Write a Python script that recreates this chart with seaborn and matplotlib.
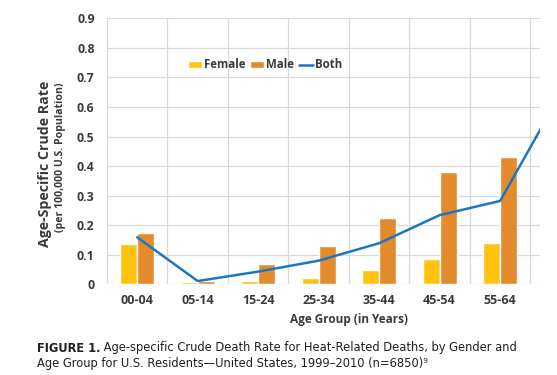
import matplotlib
matplotlib.use("Agg")
import matplotlib.pyplot as plt
import numpy as np
import pandas as pd
import seaborn as sns

# %% data
age_groups = ["00-04", "05-14", "15-24", "25-34", "35-44", "45-54", "55-64"]
female = [0.135, 0.007, 0.011, 0.021, 0.047, 0.085, 0.139]
male = [0.175, 0.012, 0.069, 0.130, 0.225, 0.380, 0.432]
# "Both" continues into the next (cropped) age group
both_groups = age_groups + ["65+"]
both = [0.159, 0.011, 0.043, 0.080, 0.139, 0.234, 0.282, 0.645]

df = pd.DataFrame(
    {
        "age": age_groups * 2,
        "rate": female + male,
        "gender": ["Female"] * len(age_groups) + ["Male"] * len(age_groups),
    }
)

# %% plot
sns.set_style("white")
plt.rcParams["font.family"] = ["Open Sans", "DejaVu Sans"]

W, H = 557, 375
fig = plt.figure(figsize=(W / 100, H / 100), dpi=100)
ax = fig.add_axes([107 / W, 1 - 284.3 / H, (540 - 107) / W, (284.3 - 18.3) / H])

gray_txt = "#3a3a3a"
sns.barplot(
    data=df,
    x="age",
    y="rate",
    hue="gender",
    palette={"Female": "#FFC30F", "Male": "#E38B2D"},
    width=0.56,
    gap=0,
    saturation=1,
    ax=ax,
    zorder=2,
)
sns.lineplot(
    x=np.arange(len(both_groups)),
    y=both,
    color="#1C77C3",
    linewidth=1.8,
    label="Both",
    ax=ax,
    zorder=3,
)

ax.set_ylim(0, 0.9)
ax.set_xlim(-0.5, 6.66)
ax.set_yticks(np.arange(0, 0.91, 0.1))
ax.set_yticklabels(["0"] + [f"{v:.1f}" for v in np.arange(0.1, 0.91, 0.1)])
ax.set_xticks(range(len(age_groups)))
ax.set_xticklabels(age_groups)
ax.set_xticks(np.arange(-0.5, 7, 1), minor=True)
ax.grid(True, axis="y", color="#d9d9d9", linewidth=0.9, zorder=0)
ax.grid(True, axis="x", which="minor", color="#d9d9d9", linewidth=0.9, zorder=0)
ax.set_axisbelow(True)
for s in ax.spines.values():
    s.set_visible(False)
ax.tick_params(axis="both", which="both", length=0)
ax.tick_params(axis="y", pad=9, labelsize=8.8, labelcolor=gray_txt)
ax.tick_params(axis="x", pad=7, labelsize=9, labelcolor=gray_txt)
for lbl in ax.get_xticklabels() + ax.get_yticklabels():
    lbl.set_fontweight("bold")
ax.set_xlabel("")
ax.set_ylabel("")

# legend
handles, labels = ax.get_legend_handles_labels()
order = [labels.index(k) for k in ["Female", "Male", "Both"]]
ax.legend(
    [handles[i] for i in order],
    [labels[i] for i in order],
    loc="center",
    bbox_to_anchor=(265 / W, 1 - 65 / H),
    bbox_transform=fig.transFigure,
    ncol=3,
    frameon=False,
    handlelength=1.2,
    handleheight=0.55,
    handletextpad=0.2,
    columnspacing=0.4,
    prop={"weight": "bold", "size": 8.3},
    labelcolor=gray_txt,
)

# axis titles
fig.text(45 / W, 1 - 164 / H, "Age-Specific Crude Rate", rotation=90,
         ha="center", va="center", fontsize=10.2, fontweight="bold", color=gray_txt)
fig.text(60.5 / W, 1 - 157 / H, "(per 100,000 U.S. Population)", rotation=90,
         ha="center", va="center", fontsize=7.6, fontweight="bold", color=gray_txt)
fig.text(349 / W, 1 - 320 / H, "Age Group (in Years)", ha="center", va="center",
         fontsize=8.5, fontweight="bold", color=gray_txt)

# caption
cap = "#231f20"
t1 = fig.text(37 / W, 1 - 348 / H, "FIGURE 1.", ha="left", va="center",
              fontsize=8.3, fontweight="bold", color=cap, family="DejaVu Sans")
ax.annotate(
    " Age-specific Crude Death Rate for Heat-Related Deaths, by Gender and",
    xy=(1, 0.5), xycoords=t1, ha="left", va="center",
    fontsize=8.3, color=cap, family="DejaVu Sans", annotation_clip=False,
)
fig.text(37 / W, 1 - 363 / H,
         "Age Group for U.S. Residents\u2014United States, 1999\u20132010 (n=6850)\u2079",
         ha="left", va="center", fontsize=8.3, color=cap, family="DejaVu Sans")

fig.savefig("out.png", dpi=100)
